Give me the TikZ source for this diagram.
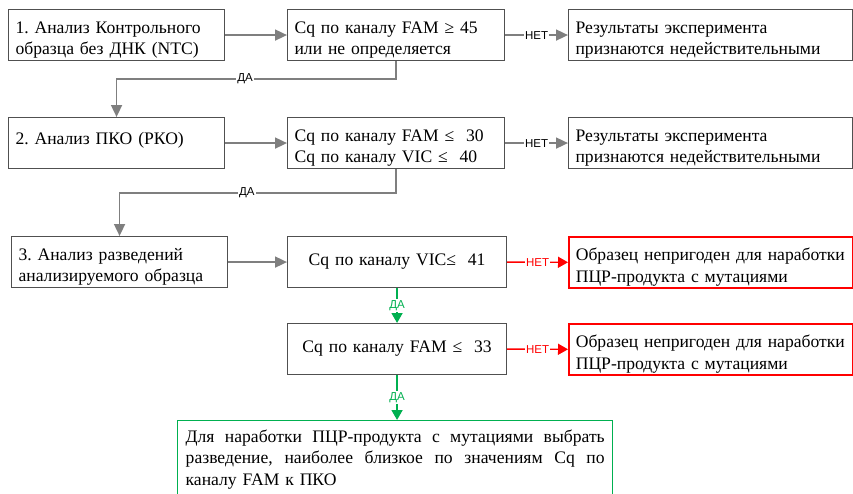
\documentclass[tikz,border=0pt]{standalone}
\usepackage{fontspec}
\setmainfont{Liberation Serif}
\newfontfamily\lblfont{Liberation Sans}
\usetikzlibrary{arrows.meta}
\definecolor{bordergray}{RGB}{80,80,80}
\definecolor{arrowgray}{RGB}{127,127,127}
\definecolor{okgreen}{RGB}{0,176,80}
\definecolor{nored}{RGB}{255,0,0}
\frenchspacing
\newcommand{\ltop}{\rule{0pt}{23pt}}
\newcommand{\lbot}{\rule[-5pt]{0pt}{5pt}}
\newcommand{\jline}[1]{\leavevmode\hbox to 419pt{\spaceskip=0pt\relax\xspaceskip=0pt\relax #1}}
\begin{document}
\begin{tikzpicture}[x=1pt,y=-1pt,
  box/.style={draw=bordergray, line width=1.1pt, inner xsep=7pt, inner ysep=0pt,
    anchor=north west, minimum height=51pt, align=left,
    font=\fontsize{17.6}{21.5}\selectfont},
  redbox/.style={box, draw=nored, line width=1.6pt},
  greenbox/.style={box, draw=okgreen, line width=1.4pt, inner xsep=8pt, inner ysep=9pt},
  garrow/.style={draw=arrowgray, line width=1.7pt, -{Triangle[length=12pt,width=11pt]}},
  rarrow/.style={draw=nored, line width=1.4pt, -{Triangle[length=10pt,width=11pt]}},
  ggarrow/.style={draw=okgreen, line width=1.6pt, -{Triangle[length=10pt,width=11pt]}},
  lbl/.style={font=\lblfont\fontsize{11.5}{13}\selectfont, fill=white, inner sep=1.2pt}]
\useasboundingbox (0,0) rectangle (853,493);
\clip (0,0) rectangle (853,493);

% row 1
\node[box, minimum width=216pt, text width=202pt] (b1) at (8,9) {\ltop 1. Анализ Контрольного\\образца без ДНК (NTC)\lbot};
\node[box, minimum width=217pt, text width=203pt] (b2) at (287,9) {\ltop Cq по каналу FAM ≥ 45\\или не определяется\lbot};
\node[box, minimum width=284pt, text width=270pt] (b3) at (568,9) {\ltop Результаты эксперимента\\признаются недействительными\lbot};
% row 2
\node[box, minimum width=216pt, text width=202pt] (b4) at (8,117) {\rule[-10pt]{0pt}{17pt}2. Анализ ПКО (РКО)};
\node[box, minimum width=217pt, text width=203pt] (b5) at (287,117) {\ltop Cq по каналу FAM ≤\ \ 30\\Cq по каналу VIC ≤\ \ 40\lbot};
\node[box, minimum width=284pt, text width=270pt] (b6) at (568,117) {\ltop Результаты эксперимента\\признаются недействительными\lbot};
% row 3
\node[box, minimum width=216pt, text width=202pt] (b7) at (11,236) {\ltop 3. Анализ разведений\\анализируемого образца\lbot};
\node[box, minimum width=219pt, text width=205pt, align=center] (b8) at (287,236) {Cq по каналу VIC≤\ \ 41};
\node[redbox, minimum width=284pt, text width=270pt] (b9) at (568,236) {\ltop Образец непригоден для наработки\\ПЦР-продукта с мутациями\lbot};
% row 4
\node[box, minimum width=219pt, text width=205pt, align=center] (b10) at (287,323) {Cq по каналу FAM ≤\ \ 33};
\node[redbox, minimum width=284pt, text width=270pt] (b11) at (568,323) {\ltop Образец непригоден для наработки\\ПЦР-продукта с мутациями\lbot};
% final
\node[greenbox, text width=419pt] (b12) at (177,420) {\jline{Для наработки ПЦР-продукта с мутациями выбрать}\\\jline{разведение, наиболее близкое по значениям Cq по}\\каналу FAM к ПКО};

% connectors
\draw[garrow] (b1.east) -- (b2.west);
\draw[garrow] (b2.east) -- node[lbl]{НЕТ} (b3.west);
\coordinate (c1) at (b2.south |- 0,79);
\draw[garrow] (b2.south) -- (c1) -| node[lbl, pos=0.27]{ДА} (b4.north);

\draw[garrow] (b4.east) -- (b4.east -| b5.west);
\draw[garrow] (b5.east) -- node[lbl]{НЕТ} (b6.west);
\coordinate (c2) at (b5.south |- 0,193);
\draw[garrow] (b5.south) -- (c2) -| node[lbl, pos=0.27]{ДА} (b7.north);

\draw[garrow] (b7.east) -- (b8.west);
\draw[rarrow] (b8.east) -- node[lbl, text=nored]{НЕТ} (b9.west);
\draw[ggarrow] (b8.south) -- node[lbl, text=okgreen]{ДА} (b10.north);
\draw[rarrow] (b10.east) -- node[lbl, text=nored]{НЕТ} (b11.west);
\draw[ggarrow] (b10.south) -- node[lbl, text=okgreen]{ДА} (b10.south |- b12.north);
\end{tikzpicture}
\end{document}
